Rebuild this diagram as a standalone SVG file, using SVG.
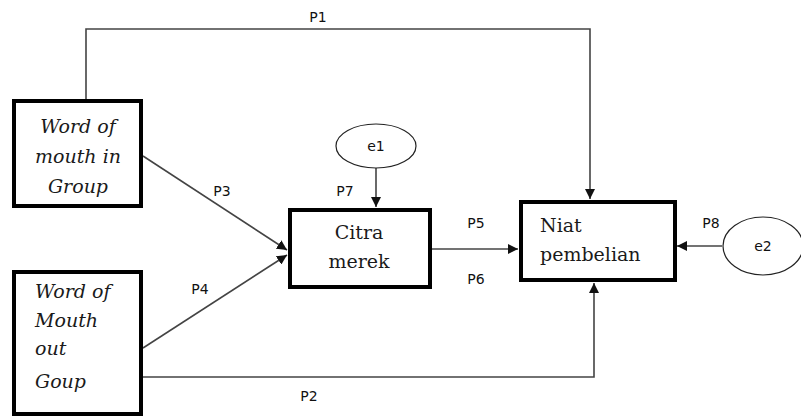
<svg xmlns="http://www.w3.org/2000/svg" width="801" height="419" viewBox="0 0 801 419">
<style>
.box{fill:#fff;stroke:#000;stroke-width:4}
.ell{fill:#fff;stroke:#222;stroke-width:1.2}
.ln{fill:none;stroke:#444;stroke-width:1.6}
.bt{font-family:"DejaVu Serif",serif;font-size:19px;fill:#1a1a1a}
.it{font-style:italic}
.lb{font-family:"DejaVu Sans",sans-serif;font-size:14px;fill:#111}
</style>
<defs>
<marker id="ar" viewBox="0 0 10 10" refX="10" refY="5" markerWidth="10" markerHeight="10" markerUnits="userSpaceOnUse" orient="auto">
<path d="M0,0 L10,5 L0,10 z" fill="#111"/>
</marker>
</defs>
<rect width="801" height="419" fill="#fff"/>
<g id="connectors">
<path class="ln" d="M86,101 V29 H590 V199" marker-end="url(#ar)"/>
<path class="ln" d="M143,377 H594 V283" marker-end="url(#ar)"/>
<path class="ln" d="M143,156 L287,250" marker-end="url(#ar)"/>
<path class="ln" d="M143,348 L287,255" marker-end="url(#ar)"/>
<path class="ln" d="M431,249 H518" marker-end="url(#ar)"/>
<path class="ln" d="M376,168 V207" marker-end="url(#ar)"/>
<path class="ln" d="M722,246 H677" marker-end="url(#ar)"/>
</g>
<g id="wom-in">
<rect class="box" x="14" y="101" width="127" height="105"/>
<text class="bt it" x="78" y="133" text-anchor="middle">Word of</text>
<text class="bt it" x="78" y="163" text-anchor="middle">mouth in</text>
<text class="bt it" x="78" y="193" text-anchor="middle">Group</text>
</g>
<g id="wom-out">
<rect class="box" x="14" y="272" width="127" height="142"/>
<text class="bt it" x="35" y="298">Word of</text>
<text class="bt it" x="35" y="327">Mouth</text>
<text class="bt it" x="35" y="355">out</text>
<text class="bt it" x="35" y="388">Goup</text>
</g>
<g id="citra">
<rect class="box" x="290" y="210" width="140" height="77"/>
<text class="bt" x="359" y="239" text-anchor="middle">Citra</text>
<text class="bt" x="359" y="268" text-anchor="middle">merek</text>
</g>
<g id="niat">
<rect class="box" x="521" y="202" width="154" height="78"/>
<text class="bt" x="540" y="232">Niat</text>
<text class="bt" x="540" y="261">pembelian</text>
</g>
<g id="e1">
<ellipse class="ell" cx="376" cy="146" rx="40" ry="22"/>
<text class="lb" x="376" y="151" text-anchor="middle">e1</text>
</g>
<g id="e2">
<ellipse class="ell" cx="763" cy="246" rx="40" ry="29"/>
<text class="lb" x="763" y="251" text-anchor="middle">e2</text>
</g>
<g id="labels">
<text class="lb" x="318" y="22" text-anchor="middle">P1</text>
<text class="lb" x="222" y="196" text-anchor="middle">P3</text>
<text class="lb" x="345" y="196" text-anchor="middle">P7</text>
<text class="lb" x="476" y="228" text-anchor="middle">P5</text>
<text class="lb" x="476" y="284" text-anchor="middle">P6</text>
<text class="lb" x="711" y="228" text-anchor="middle">P8</text>
<text class="lb" x="200" y="294" text-anchor="middle">P4</text>
<text class="lb" x="309" y="401" text-anchor="middle">P2</text>
</g>
</svg>
